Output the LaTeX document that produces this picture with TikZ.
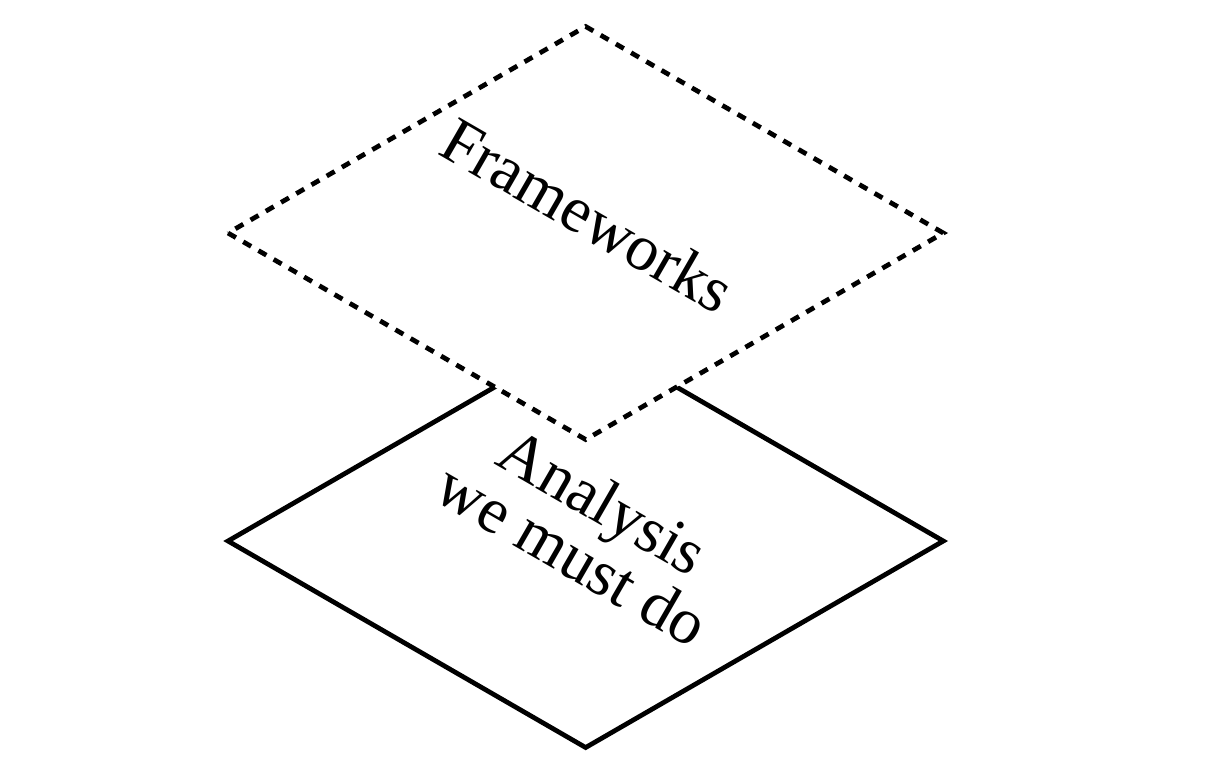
\documentclass[tikz,border=0pt]{standalone}
\usepackage{fontspec}
\setmainfont{Liberation Serif}
\begin{document}
\begin{tikzpicture}[
    iso/.style={cm={0.866,-0.5,0.866,0.5,(0,0)}},
    face/.style={line width=1.35pt, line join=miter},
    hidden/.style={face, fill=white, dash pattern=on 2.6pt off 2.4pt},
    label/.style={rotate=-30, font=\fontsize{18.5}{17.5}\selectfont, align=center, inner sep=0pt}]
  \useasboundingbox (0,0) rectangle (12.24,-7.64);
  % lower plane
  \begin{scope}[shift={(2.28,-5.41)}, iso]
    \draw[face] (0,0) -- (4.13,0) -- (4.13,4.13) -- (0,4.13) -- cycle;
  \end{scope}
  \node[label] (analysis) at (5.88,-5.28) {Analysis\\we must do};
  % upper plane
  \begin{scope}[shift={(2.28,-2.33)}, iso]
    \draw[hidden] (0,0) -- (4.13,0) -- (4.13,4.13) -- (0,4.13) -- cycle;
  \end{scope}
  \node[label] (frameworks) at (5.88,-2.15) {Frameworks};
\end{tikzpicture}
\end{document}
